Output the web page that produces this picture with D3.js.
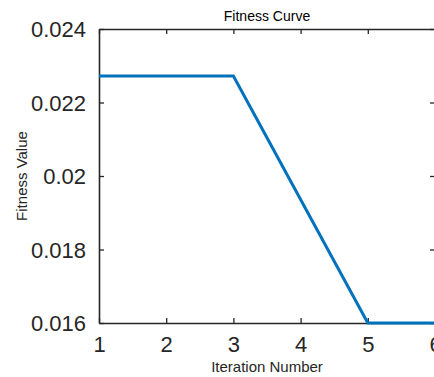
<!DOCTYPE html>
<html>
<head>
<meta charset="utf-8">
<script src="https://cdn.jsdelivr.net/npm/d3@7"></script>
<style>
  html, body { margin: 0; padding: 0; background: #fff; }
  svg { display: block; font-family: "Liberation Sans", Arial, Helvetica, sans-serif; }
</style>
</head>
<body>
<svg id="chart" width="434" height="377"></svg>
<script>
// Fitness value per iteration
const iterations = [1, 2, 3, 4, 5, 6];
const fitness = [0.02272, 0.02272, 0.02272, 0.01936, 0.016, 0.016];
const xTicks = [1, 2, 3, 4, 5, 6];
const yTicks = [0.016, 0.018, 0.02, 0.022, 0.024];
const yTickLabels = ["0.016", "0.018", "0.02", "0.022", "0.024"];

const W = 434, H = 377;
const m = { left: 99, right: 435, top: 29, bottom: 323 };
const ink = "#262626";

const svg = d3.select("#chart");

const x = d3.scaleLinear().domain([1, 6]).range([m.left, m.right]);
const y = d3.scaleLinear().domain([0.016, 0.024]).range([m.bottom, m.top]);

const tickLen = 5;

// Bottom axis
const gx = svg.append("g").attr("transform", `translate(0,${m.bottom})`)
  .call(d3.axisBottom(x).tickValues(xTicks).tickFormat(d3.format("d"))
    .tickSizeInner(-tickLen).tickSizeOuter(0).tickPadding(13));
// Top axis (ticks only)
const gxt = svg.append("g").attr("transform", `translate(0,${m.top})`)
  .call(d3.axisTop(x).tickValues(xTicks).tickFormat("")
    .tickSizeInner(-tickLen).tickSizeOuter(0));
// Left axis
const gy = svg.append("g").attr("transform", `translate(${m.left},0)`)
  .call(d3.axisLeft(y).tickValues(yTicks).tickFormat((d, i) => yTickLabels[i])
    .tickSizeInner(-tickLen).tickSizeOuter(0).tickPadding(13));
// Right axis (ticks only)
const gyr = svg.append("g").attr("transform", `translate(${m.right},0)`)
  .call(d3.axisRight(y).tickValues(yTicks).tickFormat("")
    .tickSizeInner(-tickLen).tickSizeOuter(0));

[gx, gxt, gy, gyr].forEach(g => {
  g.select(".domain").attr("stroke", ink).attr("stroke-width", 1.6);
  g.selectAll(".tick line").attr("stroke", ink).attr("stroke-width", 1.3);
  g.selectAll(".tick text").attr("fill", ink).style("font-size", "22px")
    .style("font-family", "'Liberation Sans', Arial, sans-serif");
});
gx.selectAll(".tick text").attr("dy", "0.71em");
gy.selectAll(".tick text").attr("dy", "0.35em");

// Fitness curve
const line = d3.line().x((d, i) => x(iterations[i])).y(d => y(d));
svg.append("path")
  .datum(fitness)
  .attr("d", line)
  .attr("fill", "none")
  .attr("stroke", "#0072BD")
  .attr("stroke-width", 3)
  .attr("stroke-linejoin", "miter");

// Title and axis labels
svg.append("text")
  .attr("x", (m.left + m.right) / 2).attr("y", 21)
  .attr("text-anchor", "middle").attr("fill", "#000")
  .style("font-size", "14px")
  .text("Fitness Curve");

svg.append("text")
  .attr("x", (m.left + m.right) / 2).attr("y", 372)
  .attr("text-anchor", "middle").attr("fill", ink)
  .style("font-size", "15px")
  .text("Iteration Number");

svg.append("text")
  .attr("transform", `translate(27,${(m.top + m.bottom) / 2}) rotate(-90)`)
  .attr("text-anchor", "middle").attr("fill", ink)
  .style("font-size", "15px")
  .text("Fitness Value");
</script>
</body>
</html>
